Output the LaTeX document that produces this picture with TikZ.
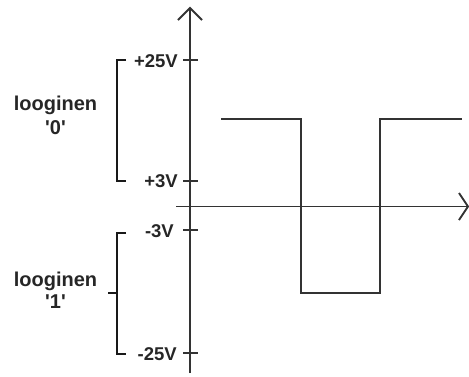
\documentclass[tikz,border=0pt]{standalone}
\usepackage{fontspec}
\newfontfamily\lblfont{Liberation Sans}[Ligatures=NoCommon]
\begin{document}
\begin{tikzpicture}[x=1pt,y=-1pt,
  axis/.style={line width=1.9pt,black!80},
  wave/.style={line width=1.9pt,black!80},
  brace/.style={line width=1.9pt,black!90},
  volt/.style={font=\lblfont\bfseries\fontsize{18.5}{20}\selectfont,anchor=base east,inner sep=0pt,black!85},
  logic/.style={font=\lblfont\bfseries\fontsize{20}{22}\selectfont,anchor=base,inner sep=0pt,black!85}]
\useasboundingbox (0,0) rectangle (469,376);
% axes
\coordinate (ytop) at (190,8);
\coordinate (ybot) at (190,373);
\coordinate (xl) at (176,206.5);
\coordinate (xr) at (468,206.5);
\draw[axis] (ybot) -- (ytop);
\draw[axis] (178,20) -- (ytop) -- (202,20);
\draw[axis] (xl) -- (xr);
\draw[axis] (459,193) -- (xr) -- (459,220);
% ticks
\foreach \yy in {60,181,230,353} \draw[axis] (183,\yy) -- (198,\yy);
% labels
\node[volt] (v25) at (178,67) {+25V};
\node[volt] (v3) at (178,187) {+3V};
\node[volt] (vm3) at (174,237) {-3V};
\node[volt] (vm25) at (177,360) {-25V};
% brackets
\draw[brace] (126,60) -- (117,60) -- (117,181) -- (126,181);
\draw[brace] (126,233) -- (117,233) -- (117,354) -- (126,354);
\draw[brace] (108,293) -- (117,293);
\node[logic] (l0) at (55.5,110) {looginen};
\node[logic] (z0) at (55.5,134) {\textquotesingle0\textquotesingle};
\node[logic] (l1) at (55.5,286) {looginen};
\node[logic] (o1) at (55.5,308) {\textquotesingle1\textquotesingle};
% square wave
\draw[wave] (221,119) -- (301,119) -- (301,293) -- (380,293) -- (380,119) -- (462,119);
\end{tikzpicture}
\end{document}
